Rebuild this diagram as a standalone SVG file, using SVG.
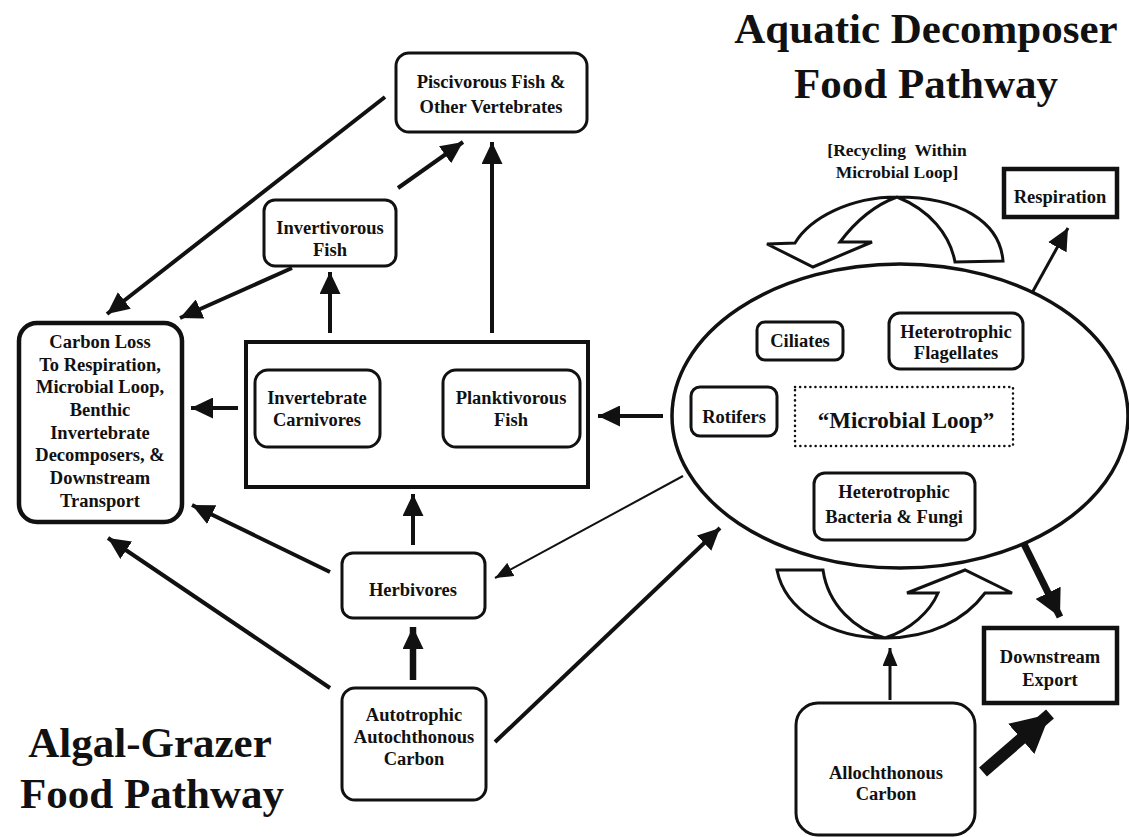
<svg xmlns="http://www.w3.org/2000/svg" width="1129" height="837" viewBox="0 0 1129 837">
<style>
.t{font-family:"Liberation Serif","Times New Roman",serif;font-weight:bold;font-size:18.5px;text-anchor:middle;fill:#111}
.title{font-family:"Liberation Serif","Times New Roman",serif;font-weight:bold;font-size:43px;text-anchor:middle;fill:#111}
.box{fill:#fff;stroke:#111;stroke-width:3}
.sq{fill:#fff;stroke:#111;stroke-width:4.5}
.c{stroke:#111;stroke-width:4;fill:none}
.shape{fill:#fff;stroke:#111;stroke-width:3;stroke-linejoin:miter}
</style>
<defs>
<marker id="ah" markerUnits="userSpaceOnUse" markerWidth="22" markerHeight="21" refX="22" refY="10.5" orient="auto"><path d="M0,0 L22,10.5 L0,21 z" fill="#111"/></marker>
<marker id="ahS" markerUnits="userSpaceOnUse" markerWidth="18" markerHeight="15" refX="18" refY="7.5" orient="auto"><path d="M0,0 L18,7.5 L0,15 z" fill="#111"/></marker>
<marker id="ahM" markerUnits="userSpaceOnUse" markerWidth="27" markerHeight="28" refX="27" refY="14" orient="auto"><path d="M0,0 L27,14 L0,28 z" fill="#111"/></marker>
<marker id="ahL" markerUnits="userSpaceOnUse" markerWidth="38" markerHeight="40" refX="38" refY="20" orient="auto"><path d="M0,0 L38,20 L0,40 z" fill="#111"/></marker>
</defs>
<rect width="1129" height="837" fill="#fff"/>

<g id="titles">
<text class="title" x="926" y="43">Aquatic Decomposer</text>
<text class="title" x="926" y="98">Food Pathway</text>
<text class="title" x="150" y="757">Algal-Grazer</text>
<text class="title" x="152" y="808">Food Pathway</text>
<text class="t" x="897" y="156" style="font-size:17.5px;white-space:pre">[Recycling  Within</text>
<text class="t" x="897" y="178" style="font-size:17.5px">Microbial Loop]</text>
</g>

<g id="connectors">
<line class="c" x1="385" y1="97" x2="107" y2="314" marker-end="url(#ah)"/>
<line class="c" x1="292" y1="268" x2="180" y2="318" marker-end="url(#ah)"/>
<line class="c" x1="398" y1="188" x2="463" y2="142" marker-end="url(#ah)"/>
<line class="c" x1="330" y1="333" x2="330" y2="272" marker-end="url(#ah)"/>
<line class="c" x1="492" y1="333" x2="492" y2="142" marker-end="url(#ah)"/>
<line class="c" x1="238" y1="408" x2="191" y2="408" marker-end="url(#ah)"/>
<line class="c" x1="663" y1="416" x2="598" y2="416" marker-end="url(#ah)"/>
<line class="c" x1="413" y1="545" x2="413" y2="494" marker-end="url(#ah)"/>
<line class="c" x1="330" y1="572" x2="192" y2="505" marker-end="url(#ah)"/>
<line class="c" x1="683" y1="476" x2="495" y2="578" style="stroke-width:2" marker-end="url(#ahS)"/>
<line class="c" x1="413" y1="680" x2="413" y2="627" style="stroke-width:6.5" marker-end="url(#ah)"/>
<line class="c" x1="330" y1="688" x2="108" y2="538" marker-end="url(#ah)"/>
<line class="c" x1="495" y1="742" x2="720" y2="528" marker-end="url(#ah)"/>
<line class="c" x1="1032" y1="293" x2="1068" y2="228" style="stroke-width:3" marker-end="url(#ah)"/>
<line class="c" x1="1023" y1="542" x2="1060" y2="617" style="stroke-width:7" marker-end="url(#ahM)"/>
<line class="c" x1="983" y1="772" x2="1050" y2="714" style="stroke-width:12" marker-end="url(#ahL)"/>
<line class="c" x1="890" y1="700" x2="890" y2="648" style="stroke-width:3" marker-end="url(#ahS)"/>
</g>

<g id="piscivorous">
<rect class="box" x="396" y="53" width="191" height="79" rx="13"/>
<text class="t" x="491" y="88">Piscivorous Fish &amp;</text>
<text class="t" x="491" y="113">Other Vertebrates</text>
</g>

<g id="invertivorous">
<rect class="box" x="264" y="200" width="132" height="66" rx="11"/>
<text class="t" x="330" y="234">Invertivorous</text>
<text class="t" x="330" y="256">Fish</text>
</g>

<g id="carbon-loss">
<rect class="box" x="19" y="323" width="163" height="199" rx="18" style="stroke-width:4.5"/>
<text class="t" x="100" y="348">Carbon Loss</text>
<text class="t" x="100" y="371">To Respiration,</text>
<text class="t" x="100" y="393">Microbial Loop,</text>
<text class="t" x="100" y="416">Benthic</text>
<text class="t" x="100" y="439">Invertebrate</text>
<text class="t" x="100" y="461">Decomposers, &amp;</text>
<text class="t" x="100" y="484">Downstream</text>
<text class="t" x="100" y="507">Transport</text>
</g>

<g id="consumers">
<rect class="sq" x="246" y="342" width="342" height="145" style="stroke-width:4"/>
</g>
<g id="invertebrate-carnivores">
<rect class="box" x="255" y="370" width="125" height="77" rx="13"/>
<text class="t" x="317" y="404">Invertebrate</text>
<text class="t" x="317" y="426">Carnivores</text>
</g>
<g id="planktivorous">
<rect class="box" x="443" y="370" width="137" height="77" rx="13"/>
<text class="t" x="511" y="404">Planktivorous</text>
<text class="t" x="511" y="426">Fish</text>
</g>

<g id="herbivores">
<rect class="box" x="342" y="553" width="143" height="65" rx="11"/>
<text class="t" x="413" y="596">Herbivores</text>
</g>

<g id="autotrophic">
<rect class="box" x="342" y="688" width="144" height="112" rx="13"/>
<text class="t" x="414" y="721">Autotrophic</text>
<text class="t" x="414" y="743">Autochthonous</text>
<text class="t" x="414" y="765">Carbon</text>
</g>

<g id="microbial-loop">
<ellipse cx="900" cy="416" rx="228" ry="152" fill="#fff" stroke="#111" stroke-width="3.5"/>
<rect x="795" y="387" width="218" height="59" fill="none" stroke="#111" stroke-width="2.5" stroke-dasharray="0.1 5" stroke-linecap="round"/>
<text class="t" x="906" y="428" style="font-size:23px">“Microbial Loop”</text>
</g>
<g id="ciliates">
<rect class="box" x="757" y="322" width="86" height="38" rx="8"/>
<text class="t" x="800" y="347">Ciliates</text>
</g>
<g id="flagellates">
<rect class="box" x="889" y="313" width="134" height="56" rx="11"/>
<text class="t" x="956" y="338">Heterotrophic</text>
<text class="t" x="956" y="359">Flagellates</text>
</g>
<g id="rotifers">
<rect class="box" x="691" y="387" width="86" height="49" rx="9"/>
<text class="t" x="734" y="423">Rotifers</text>
</g>
<g id="bacteria">
<rect class="box" x="814" y="473" width="161" height="67" rx="11"/>
<text class="t" x="894" y="498">Heterotrophic</text>
<text class="t" x="894" y="523">Bacteria &amp; Fungi</text>
</g>

<g id="recycle-top">
<path class="shape" d="M1003,261 C1000,222 960,197 897,197 C850,197 810,218 795,243 L767,244 L813,267 L872,242 L840,242 C855,222 875,205 897,197 C930,210 950,235 955,262 Z"/>
</g>
<g id="recycle-bottom">
<path class="shape" d="M777,570 L823,570 C828,605 855,630 885,638 C910,630 930,612 938,593 L907,593 L965,570 L1012,593 L985,593 C965,620 930,638 885,638 C830,638 785,610 777,570 Z"/>
</g>

<g id="respiration">
<rect class="sq" x="1004" y="169" width="113" height="48"/>
<text class="t" x="1060" y="203">Respiration</text>
</g>

<g id="downstream-export">
<rect class="sq" x="984" y="628" width="133" height="75"/>
<text class="t" x="1050" y="663">Downstream</text>
<text class="t" x="1050" y="686">Export</text>
</g>

<g id="allochthonous">
<rect class="box" x="796" y="703" width="179" height="132" rx="22"/>
<text class="t" x="886" y="779">Allochthonous</text>
<text class="t" x="886" y="800">Carbon</text>
</g>
</svg>
